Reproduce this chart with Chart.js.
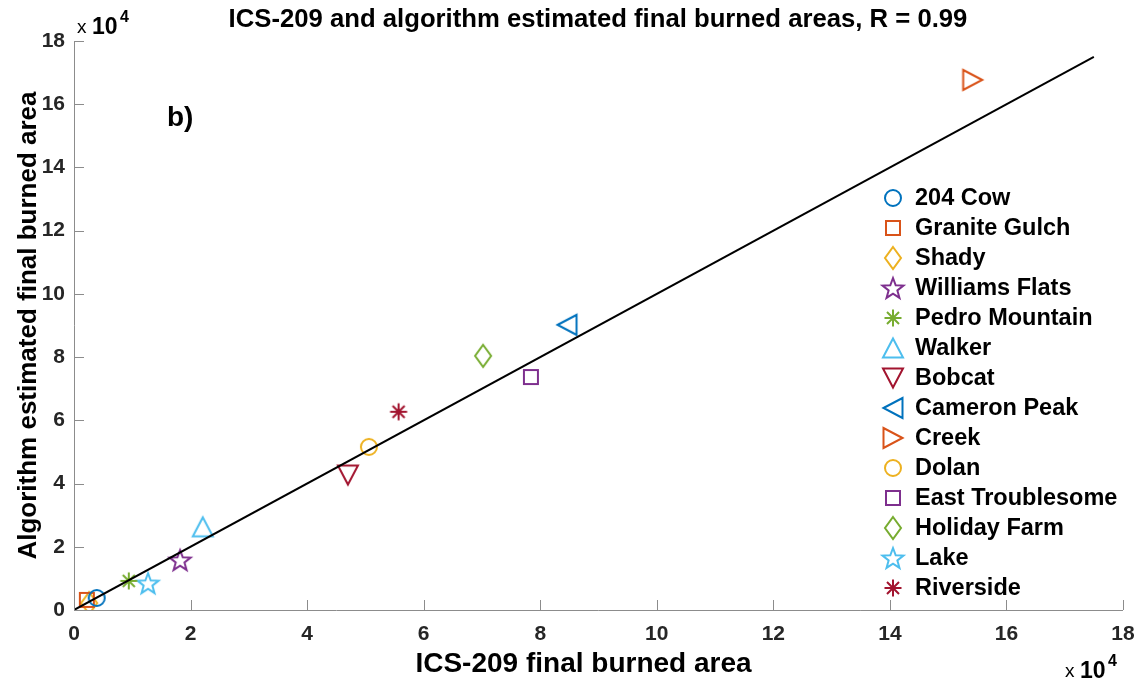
<!DOCTYPE html>
<html>
<head>
<meta charset="utf-8">
<script src="https://cdn.jsdelivr.net/npm/chart.js@4/dist/chart.umd.min.js"></script>
<style>
  html, body { margin: 0; padding: 0; background: #fff; }
  #wrap { width: 1137px; height: 681px; position: relative; }
</style>
</head>
<body>
<div id="wrap"><canvas id="c" width="1137" height="681"></canvas></div>
<script>
// Fire events and their final burned areas (acres)
const fires = ['204 Cow', 'Granite Gulch', 'Shady', 'Williams Flats', 'Pedro Mountain', 'Walker',
  'Bobcat', 'Cameron Peak', 'Creek', 'Dolan', 'East Troublesome', 'Holiday Farm', 'Lake', 'Riverside'];
const icsArea = [3900, 2200, 2600, 18200, 9400, 22100, 47000, 84600, 154200, 50600, 78400, 70200, 12700, 55700];
const algArea = [3800, 3200, 2200, 15800, 9200, 26300, 42700, 90200, 167700, 51600, 73700, 80400, 8500, 62700];
const markers = ['circle', 'square', 'diamond', 'pentagram', 'asterisk', 'triUp', 'triDown',
  'triLeft', 'triRight', 'circle', 'square', 'diamond', 'pentagram', 'asterisk'];
const colors = ['#0072BD', '#D95319', '#EDB120', '#7E2F8E', '#77AC30', '#4DBEEE', '#A2142F',
  '#0072BD', '#D95319', '#EDB120', '#7E2F8E', '#77AC30', '#4DBEEE', '#A2142F'];
// 1:1 reference line end points
const lineX = [0, 175000];
const lineY = [0, 175000];
// Axis ticks (values in units of 10^4)
const tickValues = [0, 2, 4, 6, 8, 10, 12, 14, 16, 18];

const FONT = '"Liberation Sans", Arial, Helvetica, sans-serif';

// Draw an open marker glyph onto a small canvas usable as a pointStyle
function makeMarker(shape, color) {
  const S = 30, c = document.createElement('canvas');
  c.width = S; c.height = S;
  const g = c.getContext('2d');
  g.strokeStyle = color; g.lineWidth = 2; g.lineJoin = 'miter';
  const m = S / 2;
  g.beginPath();
  switch (shape) {
    case 'circle': g.arc(m, m, 8, 0, Math.PI * 2); break;
    case 'square': g.rect(m - 7, m - 7, 14, 14); break;
    case 'diamond': g.moveTo(m, m - 11); g.lineTo(m + 8, m); g.lineTo(m, m + 11); g.lineTo(m - 8, m); g.closePath(); break;
    case 'pentagram': {
      const R = 11, r = 4.6;
      for (let i = 0; i < 10; i++) {
        const a = -Math.PI / 2 + i * Math.PI / 5, rr = i % 2 ? r : R;
        const px = m + rr * Math.cos(a), py = m + 1 + rr * Math.sin(a);
        i ? g.lineTo(px, py) : g.moveTo(px, py);
      }
      g.closePath(); break;
    }
    case 'asterisk': {
      const R = 8.5;
      for (let i = 0; i < 4; i++) {
        const a = i * Math.PI / 4;
        g.moveTo(m + R * Math.cos(a), m + R * Math.sin(a));
        g.lineTo(m - R * Math.cos(a), m - R * Math.sin(a));
      }
      break;
    }
    case 'triUp': g.moveTo(m, m - 9.5); g.lineTo(m + 10, m + 9.5); g.lineTo(m - 10, m + 9.5); g.closePath(); break;
    case 'triDown': g.moveTo(m, m + 9.5); g.lineTo(m + 10, m - 9.5); g.lineTo(m - 10, m - 9.5); g.closePath(); break;
    case 'triLeft': g.moveTo(m - 9.5, m); g.lineTo(m + 9.5, m - 10); g.lineTo(m + 9.5, m + 10); g.closePath(); break;
    case 'triRight': g.moveTo(m + 9.5, m); g.lineTo(m - 9.5, m - 10); g.lineTo(m - 9.5, m + 10); g.closePath(); break;
  }
  g.stroke();
  return c;
}

const markerImgs = markers.map((s, i) => makeMarker(s, colors[i]));

const datasets = fires.map((name, i) => ({
  type: 'scatter',
  label: name,
  data: [{ x: icsArea[i], y: algArea[i] }],
  pointStyle: markerImgs[i],
  pointRadius: 10,
  borderColor: colors[i],
  backgroundColor: 'transparent',
  order: 2
}));
datasets.push({
  type: 'line',
  label: 'fit',
  data: lineX.map((x, i) => ({ x, y: lineY[i] })),
  borderColor: '#000',
  borderWidth: 2,
  pointRadius: 0,
  fill: false,
  order: 1
});

// Axes, inward ticks, titles, exponent labels and legend
const decor = {
  id: 'decor',
  afterDatasetsDraw(chart) {
    const { ctx, chartArea: a, scales: { x, y } } = chart;
    ctx.save();
    // axis lines and inward ticks
    ctx.strokeStyle = '#8c8c8c';
    ctx.lineWidth = 1;
    ctx.beginPath();
    ctx.moveTo(a.left + 0.5, a.top); ctx.lineTo(a.left + 0.5, a.bottom + 0.5); ctx.lineTo(a.right, a.bottom + 0.5);
    tickValues.forEach(v => {
      const px = Math.round(x.getPixelForValue(v * 1e4)) + 0.5;
      ctx.moveTo(px, a.bottom); ctx.lineTo(px, a.bottom - 10);
      const py = Math.round(y.getPixelForValue(v * 1e4)) + 0.5;
      ctx.moveTo(a.left, py); ctx.lineTo(a.left + 10, py);
    });
    ctx.stroke();

    ctx.fillStyle = '#000';
    // chart title
    ctx.font = 'bold 25.7px ' + FONT;
    ctx.textAlign = 'center'; ctx.textBaseline = 'middle';
    ctx.fillText('ICS-209 and algorithm estimated final burned areas, R = 0.99', 598, 20);
    // axis titles
    ctx.font = 'bold 28px ' + FONT;
    ctx.fillText('ICS-209 final burned area', (a.left + a.right) / 2 - 15, 664);
    ctx.save();
    ctx.translate(29, (a.top + a.bottom) / 2);
    ctx.rotate(-Math.PI / 2);
    ctx.font = 'bold 26px ' + FONT;
    ctx.fillText('Algorithm estimated final burned area', 0, 0);
    ctx.restore();
    // panel label
    ctx.font = 'bold 28px ' + FONT;
    ctx.textAlign = 'left';
    ctx.fillText('b)', 167, 118);

    // exponent labels
    function expo(x0, base) {
      ctx.textAlign = 'left'; ctx.textBaseline = 'alphabetic';
      ctx.font = '19px ' + FONT;
      ctx.fillText('x', x0, base);
      ctx.font = 'bold 23px ' + FONT;
      ctx.fillText('10', x0 + 15, base + 1);
      ctx.font = 'bold 16px ' + FONT;
      ctx.fillText('4', x0 + 43, base - 11);
    }
    expo(77, 33);
    expo(1065, 677);

    // legend
    const lx = 893, tx = 915, ly0 = 198, dy = 30;
    ctx.font = 'bold 23.5px ' + FONT;
    ctx.textBaseline = 'middle';
    fires.forEach((name, i) => {
      const yy = ly0 + i * dy;
      ctx.drawImage(markerImgs[i], lx - 15, yy - 15);
      ctx.fillStyle = '#000';
      ctx.textAlign = 'left';
      ctx.fillText(name, tx, yy + 1);
    });
    ctx.restore();
  }
};

new Chart(document.getElementById('c'), {
  data: { datasets },
  plugins: [decor],
  options: {
    responsive: false,
    animation: false,
    layout: { padding: { left: 0, right: 14, top: 41, bottom: 0 } },
    plugins: { legend: { display: false }, tooltip: { enabled: false }, title: { display: false } },
    scales: {
      x: {
        type: 'linear', min: 0, max: 180000,
        afterFit(s) { s.height = 71; s.paddingLeft = 0; s.paddingRight = 0; },
        border: { display: false },
        grid: { display: false, drawTicks: false },
        ticks: {
          stepSize: 20000, padding: 12, color: '#262626', maxRotation: 0,
          font: { family: FONT, size: 21, weight: 'bold' },
          callback: v => String(v / 1e4)
        }
      },
      y: {
        type: 'linear', min: 0, max: 180000,
        afterFit(s) { s.width = 74; s.paddingTop = 0; s.paddingBottom = 0; },
        border: { display: false },
        grid: { display: false, drawTicks: false },
        ticks: {
          stepSize: 20000, padding: 9, color: '#262626',
          font: { family: FONT, size: 21, weight: 'bold' },
          callback: v => String(v / 1e4)
        }
      }
    }
  }
});
</script>
</body>
</html>
